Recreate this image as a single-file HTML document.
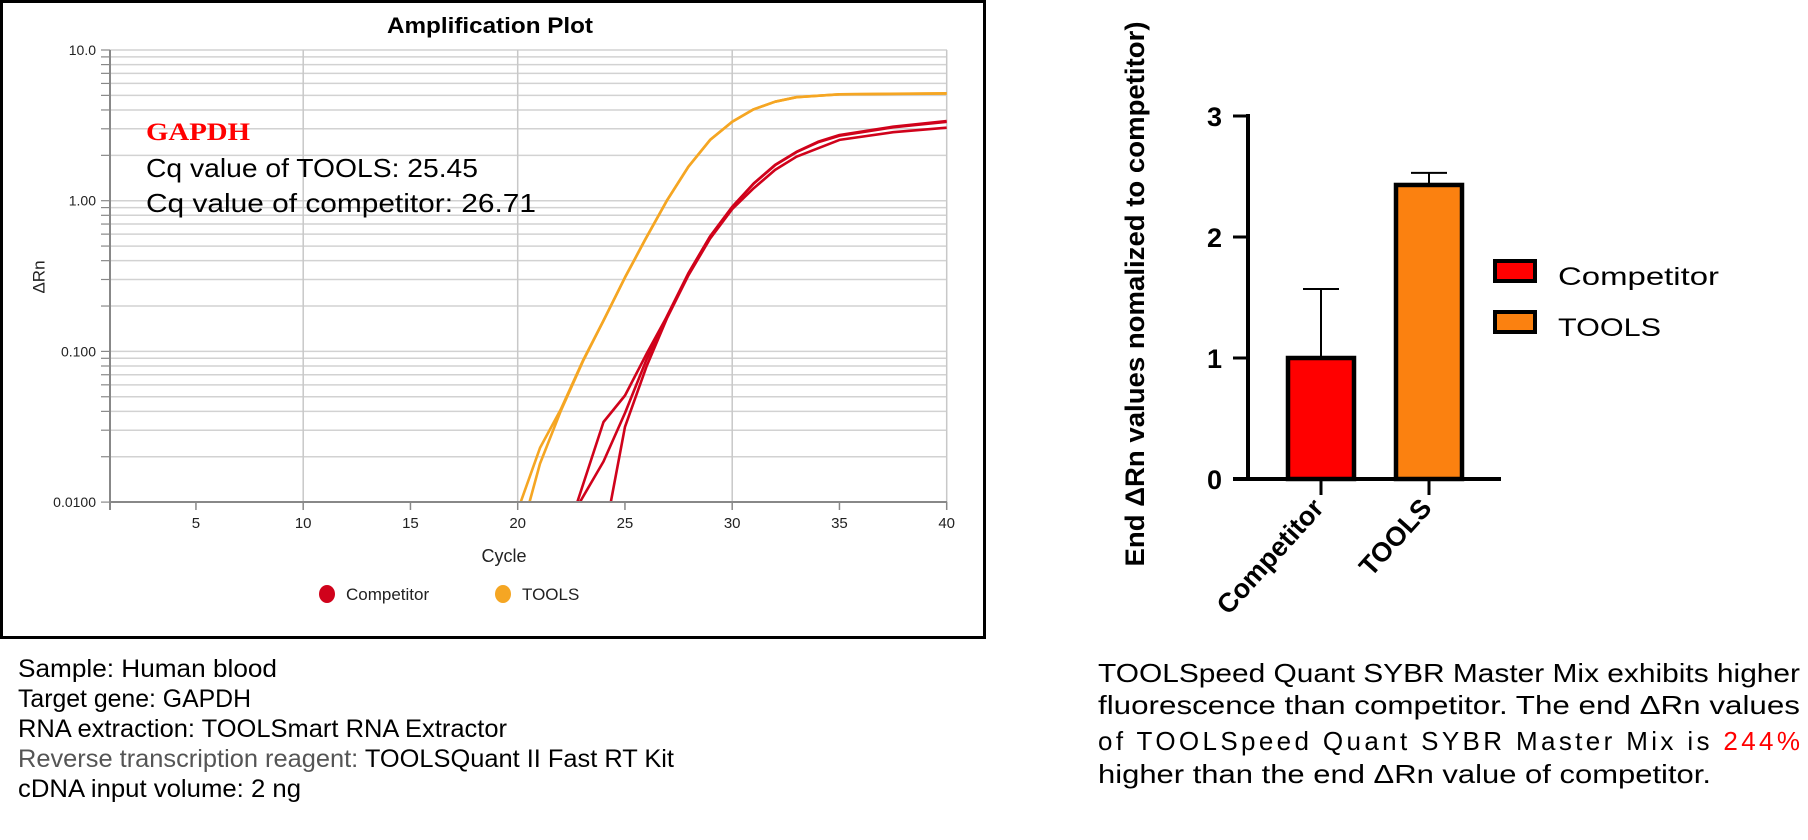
<!DOCTYPE html>
<html><head><meta charset="utf-8"><style>
html,body{margin:0;padding:0;background:#fff;}
svg{display:block;}
</style></head><body>
<svg id="root" width="1808" height="840" viewBox="0 0 1808 840" xmlns="http://www.w3.org/2000/svg">
  <rect x="1.5" y="1.5" width="983" height="636" fill="none" stroke="#000" stroke-width="3"/>
  <text x="490" y="33" text-anchor="middle" font-family="Liberation Sans, sans-serif" font-weight="bold" font-size="22" textLength="206" lengthAdjust="spacingAndGlyphs">Amplification Plot</text>
  <g id="amp-grid"></g>
  <g id="amp-curves"></g>
  <g id="amp-axes"></g>
  <text x="40" y="277" transform="rotate(-90 40 277)" text-anchor="middle" dominant-baseline="middle" font-family="Liberation Sans, sans-serif" font-size="17" fill="#222">ΔRn</text>
  <text x="504" y="562" text-anchor="middle" font-family="Liberation Sans, sans-serif" font-size="18" fill="#222">Cycle</text>
  <g>
    <ellipse cx="327" cy="594" rx="8" ry="9" fill="#D0021B"/>
    <text x="346" y="600" font-family="Liberation Sans, sans-serif" font-size="17" fill="#222">Competitor</text>
  </g>
  <g>
    <ellipse cx="503" cy="594" rx="8" ry="9" fill="#F5A623"/>
    <text x="522" y="600" font-family="Liberation Sans, sans-serif" font-size="17" fill="#222">TOOLS</text>
  </g>
  <text x="146" y="140" font-family="Liberation Serif, serif" font-weight="bold" font-size="25" fill="#FF0000" textLength="104" lengthAdjust="spacingAndGlyphs">GAPDH</text>
  <text x="146" y="177" font-family="Liberation Sans, sans-serif" font-size="26" fill="#000" textLength="332" lengthAdjust="spacingAndGlyphs">Cq value of TOOLS: 25.45</text>
  <text x="146" y="212" font-family="Liberation Sans, sans-serif" font-size="26" fill="#000" textLength="390" lengthAdjust="spacingAndGlyphs">Cq value of competitor: 26.71</text>

  <g font-family="Liberation Sans, sans-serif" font-size="25">
    <text x="18" y="677" textLength="259" lengthAdjust="spacingAndGlyphs">Sample: Human blood</text>
    <text x="18" y="707" textLength="233" lengthAdjust="spacingAndGlyphs">Target gene: GAPDH</text>
    <text x="18" y="737" textLength="489" lengthAdjust="spacingAndGlyphs">RNA extraction: TOOLSmart RNA Extractor</text>
    <text x="18" y="767" textLength="656" lengthAdjust="spacingAndGlyphs"><tspan fill="#555">Reverse transcription reagent: </tspan><tspan fill="#000">TOOLSQuant II Fast RT Kit</tspan></text>
    <text x="18" y="797" textLength="283" lengthAdjust="spacingAndGlyphs">cDNA input volume: 2 ng</text>
  </g>

  <g font-family="Liberation Sans, sans-serif" font-size="26">
    <text x="1098" y="682" textLength="702" lengthAdjust="spacingAndGlyphs">TOOLSpeed Quant SYBR Master Mix exhibits higher</text>
    <text x="1098" y="714" textLength="702" lengthAdjust="spacingAndGlyphs">fluorescence than competitor. The end ΔRn values</text>
    <text x="1098" y="750" textLength="702" lengthAdjust="spacing">of TOOLSpeed Quant SYBR Master Mix is <tspan fill="#FF0000">244%</tspan></text>
    <text x="1098" y="783" textLength="613" lengthAdjust="spacingAndGlyphs">higher than the end ΔRn value of competitor.</text>
  </g>

  <text x="1144" y="294" transform="rotate(-90 1144 294)" text-anchor="middle" font-family="Liberation Sans, sans-serif" font-weight="bold" font-size="27" textLength="545" lengthAdjust="spacingAndGlyphs">End ΔRn values nomalized to competitor)</text>
  <g id="bar-chart"></g>
  <g>
    <rect x="1495" y="261" width="40" height="20" fill="#FF0000" stroke="#000" stroke-width="4"/>
    <text x="1558" y="285" font-family="Liberation Sans, sans-serif" font-size="25" textLength="161" lengthAdjust="spacingAndGlyphs">Competitor</text>
  </g>
  <g>
    <rect x="1495" y="312" width="40" height="20" fill="#FB8110" stroke="#000" stroke-width="4"/>
    <text x="1558" y="336" font-family="Liberation Sans, sans-serif" font-size="25" textLength="103" lengthAdjust="spacingAndGlyphs">TOOLS</text>
  </g>
</svg>
<script>
// ---- amplification plot data ----
const toolsCyclesA = [20.14, 21.04, 22, 23.06, 24, 25, 25.94, 26.95, 27.96, 28.97, 30, 31, 32, 33, 35, 40];
const toolsValuesA = [0.01, 0.0229, 0.041, 0.088, 0.16, 0.31, 0.55, 1.0, 1.68, 2.53, 3.34, 4.04, 4.54, 4.86, 5.08, 5.16];
const toolsCyclesB = [20.55, 21.04, 22, 23.06, 24, 25, 25.94, 26.95, 27.96, 28.97, 30, 31, 32, 33, 35, 40];
const toolsValuesB = [0.01, 0.018, 0.04, 0.087, 0.16, 0.31, 0.55, 1.0, 1.68, 2.53, 3.34, 4.04, 4.54, 4.86, 5.08, 5.14];
const compCyclesA = [22.78, 24, 25, 26.02, 26.95, 27.96, 28.97, 30, 31, 32, 33, 34, 35, 37.5, 40];
const compValuesA = [0.01, 0.034, 0.051, 0.097, 0.17, 0.33, 0.58, 0.91, 1.30, 1.73, 2.11, 2.46, 2.73, 3.1, 3.38];
const compCyclesB = [22.9, 24, 25, 26, 26.95, 27.96, 28.97, 30, 31, 32, 33, 34, 35, 37.5, 40];
const compValuesB = [0.01, 0.0186, 0.039, 0.088, 0.17, 0.33, 0.58, 0.91, 1.30, 1.72, 2.10, 2.44, 2.70, 3.07, 3.34];
const compCyclesC = [24.34, 25, 26, 26.95, 27.96, 28.97, 30, 31, 32, 33, 35, 37.5, 40];
const compValuesC = [0.01, 0.0316, 0.079, 0.165, 0.32, 0.56, 0.88, 1.21, 1.6, 1.96, 2.53, 2.85, 3.05];
const xTickLabels = ["5", "10", "15", "20", "25", "30", "35", "40"];
const xTickValues = [5, 10, 15, 20, 25, 30, 35, 40];
const yTickLabels = ["0.0100", "0.100", "1.00", "10.0"];
const yTickValues = [0.01, 0.1, 1, 10];
// ---- bar chart data ----
const barCategories = ["Competitor", "TOOLS"];
const barValues = [1.0, 2.43];
const barErrors = [0.57, 0.10];
const barTickLabels = ["0", "1", "2", "3"];
const barTickValues = [0, 1, 2, 3];

const NS = "http://www.w3.org/2000/svg";
function mk(tag, attrs, parent) {
  const e = document.createElementNS(NS, tag);
  for (const k in attrs) e.setAttribute(k, attrs[k]);
  parent.appendChild(e);
  return e;
}
// axis functions
const X0 = 110, X1 = 947, Y0 = 502;
function xAmp(c) { return 517.7 + (c - 20) * 21.45; }
function yAmp(v) { return 200.7 - Math.log10(v) * 150.7; }

const grid = document.getElementById('amp-grid');
const axes = document.getElementById('amp-axes');
for (let d = -2; d <= 1; d++) {
  for (let m = 1; m <= 9; m++) {
    const v = m * Math.pow(10, d);
    if (v > 10.0001) break;
    const y = yAmp(v);
    const gl = mk('line', {x1: X0, x2: X1, y1: y, y2: y, stroke: '#d2d2d2', 'stroke-width': 1.5}, grid);
    
    
    const tk = mk('line', {x1: 101, x2: X0, y1: y, y2: y, stroke: '#888', 'stroke-width': 1.2}, axes);
    
    
    if (v >= 10) break;
  }
}
[10, 20, 30, 40].forEach(c => {
  const vl = mk('line', {x1: xAmp(c), x2: xAmp(c), y1: yAmp(10), y2: Y0, stroke: '#c8c8c8', 'stroke-width': 1.5}, grid);
  
  
});
const xa = mk('line', {x1: X0, x2: X1, y1: Y0, y2: Y0, stroke: '#888', 'stroke-width': 2}, axes);


const ya = mk('line', {x1: X0, x2: X0, y1: yAmp(10), y2: Y0 + 8, stroke: '#888', 'stroke-width': 2}, axes);


xTickValues.forEach((c, i) => {
  const t = mk('line', {x1: xAmp(c), x2: xAmp(c), y1: Y0, y2: Y0 + 8, stroke: '#888', 'stroke-width': 1.5}, axes);
  
  
  const l = mk('text', {x: xAmp(c), y: 528, 'text-anchor': 'middle', 'font-family': 'Liberation Sans, sans-serif', 'font-size': 15, fill: '#222'}, axes);
  l.textContent = xTickLabels[i];
  
  
});
yTickValues.forEach((v, i) => {
  const l = mk('text', {x: 96, y: yAmp(v) + 5, 'text-anchor': 'end', 'font-family': 'Liberation Sans, sans-serif', 'font-size': 14, fill: '#222'}, axes);
  l.textContent = yTickLabels[i];
  
  
});
const curves = document.getElementById('amp-curves');
function drawCurve(cs, vs, color, name) {
  const d = cs.map((c, i) => (i ? 'L' : 'M') + xAmp(c).toFixed(1) + ',' + yAmp(vs[i]).toFixed(1)).join(' ');
  const p = mk('path', {d: d, fill: 'none', stroke: color, 'stroke-width': 2.6, 'stroke-linejoin': 'round'}, curves);
  
  
}
drawCurve(compCyclesA, compValuesA, '#D0021B', 'competitor-curve-1');
drawCurve(compCyclesB, compValuesB, '#D0021B', 'competitor-curve-2');
drawCurve(compCyclesC, compValuesC, '#D0021B', 'competitor-curve-3');
drawCurve(toolsCyclesA, toolsValuesA, '#F5A623', 'tools-curve-1');
drawCurve(toolsCyclesB, toolsValuesB, '#F5A623', 'tools-curve-2');

// ---- bar chart ----
const bc = document.getElementById('bar-chart');
const BY0 = 479, BUNIT = 121, BAXX = 1248;
function yBar(v) { return BY0 - v * BUNIT; }
const barCenters = [1321, 1429];
const barW = 66;
const barColors = ['#FF0000', '#FB8110'];
barCategories.forEach((c, i) => {
  const cx = barCenters[i];
  const top = yBar(barValues[i] + barErrors[i]);
  const el = mk('line', {x1: cx, x2: cx, y1: top, y2: yBar(barValues[i]), stroke: '#000', 'stroke-width': 2}, bc);
  
  
  const cap = mk('line', {x1: cx - 18, x2: cx + 18, y1: top, y2: top, stroke: '#000', 'stroke-width': 2}, bc);
  
  
  const r = mk('rect', {x: cx - barW / 2, y: yBar(barValues[i]), width: barW, height: barValues[i] * BUNIT, fill: barColors[i], stroke: '#000', 'stroke-width': 4.5}, bc);
  
  
  const t = mk('line', {x1: cx, x2: cx, y1: BY0, y2: BY0 + 16, stroke: '#000', 'stroke-width': 3}, bc);
  
  
  const lx = cx + 4, ly = BY0 + 30;
  const lab = mk('text', {x: lx, y: ly, 'text-anchor': 'end', transform: 'rotate(-48 ' + lx + ' ' + ly + ')', 'font-family': 'Liberation Sans, sans-serif', 'font-weight': 'bold', 'font-size': 27}, bc);
  lab.textContent = c;
  
  
});
const bxa = mk('line', {x1: 1233, x2: 1501, y1: BY0, y2: BY0, stroke: '#000', 'stroke-width': 4}, bc);


const bya = mk('line', {x1: BAXX, x2: BAXX, y1: yBar(3) - 2, y2: BY0 + 2, stroke: '#000', 'stroke-width': 4}, bc);


barTickValues.forEach((v, i) => {
  const t = mk('line', {x1: 1233, x2: BAXX, y1: yBar(v), y2: yBar(v), stroke: '#000', 'stroke-width': 3}, bc);
  
  
  const l = mk('text', {x: 1222, y: yBar(v) + 10, 'text-anchor': 'end', 'font-family': 'Liberation Sans, sans-serif', 'font-weight': 'bold', 'font-size': 27}, bc);
  l.textContent = barTickLabels[i];
  
  
});
</script>
</body></html>
